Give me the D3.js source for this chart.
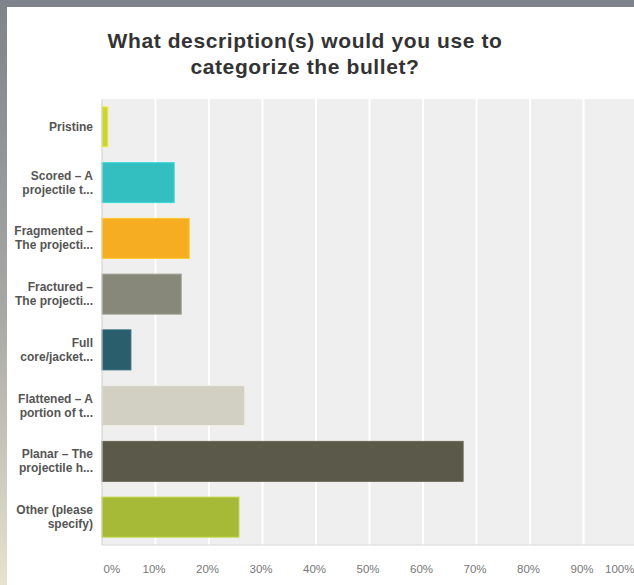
<!DOCTYPE html>
<html>
<head>
<meta charset="utf-8">
<script src="https://cdn.jsdelivr.net/npm/d3@7"></script>
<style>
  html, body { margin: 0; padding: 0; background: #fff; }
  svg { display: block; font-family: "Liberation Sans", Arial, sans-serif; }
</style>
</head>
<body>
<div class="chart"></div>
<script>
// answer choices, each split into the two lines shown on the axis
const categories = [
  ['Pristine'],
  ['Scored – A', 'projectile t...'],
  ['Fragmented –', 'The projecti...'],
  ['Fractured –', 'The projecti...'],
  ['Full', 'core/jacket...'],
  ['Flattened – A', 'portion of t...'],
  ['Planar – The', 'projectile h...'],
  ['Other (please', 'specify)']
];
const values = [1.1, 13.5, 16.3, 14.8, 5.4, 26.7, 67.5, 25.6];
const colors = ['#cbd335', '#33bec0', '#f6ad22', '#87887a', '#2b5e6c', '#d1d0c3', '#5a594a', '#a7ba37'];
const ticks = [0, 10, 20, 30, 40, 50, 60, 70, 80, 90, 100];
const title = ['What description(s) would you use to', 'categorize the bullet?'];

const config = {
  width: 634,
  height: 585,
  left: 102,
  top: 99,
  plotWidth: 535,
  plotHeight: 446
};

const data = categories.map((c, i) => ({ id: i, lines: c, value: values[i], color: colors[i] }));

const svg = d3.select('.chart')
  .append('svg')
  .attr('width', config.width)
  .attr('height', config.height);

// grey frame from the screenshot: top band and a left band fading to beige
const defs = svg.append('defs');
const grad = defs.append('linearGradient')
  .attr('id', 'edge')
  .attr('x1', 0).attr('y1', 0).attr('x2', 0).attr('y2', 1);
grad.append('stop').attr('offset', '0%').attr('stop-color', '#7f838b');
grad.append('stop').attr('offset', '55%').attr('stop-color', '#a9aaa6');
grad.append('stop').attr('offset', '100%').attr('stop-color', '#e7e3cf');

svg.append('rect').attr('width', config.width).attr('height', config.height).attr('fill', '#fff');
svg.append('rect').attr('width', 7).attr('height', config.height).attr('fill', 'url(#edge)');
svg.append('rect').attr('width', config.width).attr('height', 7).attr('fill', '#7f838b');

svg.append('g')
  .selectAll('text')
  .data(title)
  .enter()
  .append('text')
  .attr('x', 305)
  .attr('y', (d, i) => 48 + i * 26)
  .attr('text-anchor', 'middle')
  .attr('font-size', 21)
  .attr('letter-spacing', 0.6)
  .attr('font-weight', 'bold')
  .attr('fill', '#333')
  .text(d => d);

const x = d3.scaleLinear()
  .domain([0, 100])
  .range([config.left, config.left + config.plotWidth]);

const y = d3.scaleBand()
  .domain(data.map(d => d.id))
  .range([config.top, config.top + config.plotHeight])
  .paddingInner(0.283)
  .paddingOuter(0.1415);

svg.append('rect')
  .attr('x', config.left)
  .attr('y', config.top)
  .attr('width', config.plotWidth)
  .attr('height', config.plotHeight)
  .attr('fill', '#efefef');

svg.append('g')
  .selectAll('line')
  .data(ticks.slice(1))
  .enter()
  .append('line')
  .attr('x1', d => x(d))
  .attr('x2', d => x(d))
  .attr('y1', config.top)
  .attr('y2', config.top + config.plotHeight)
  .attr('stroke', '#fff')
  .attr('stroke-width', 2);

svg.append('g')
  .selectAll('rect')
  .data(data)
  .enter()
  .append('rect')
  .attr('x', x(0))
  .attr('y', d => y(d.id))
  .attr('width', d => x(d.value) - x(0))
  .attr('height', y.bandwidth())
  .attr('fill', d => d.color)
  .attr('stroke', d => d3.color(d.color).brighter(0.4))
  .attr('stroke-width', 1);

// left and bottom axis lines
svg.append('line')
  .attr('x1', config.left).attr('x2', config.left)
  .attr('y1', config.top).attr('y2', config.top + config.plotHeight)
  .attr('stroke', '#cfcfcf');
svg.append('line')
  .attr('x1', config.left).attr('x2', config.left + config.plotWidth)
  .attr('y1', config.top + config.plotHeight).attr('y2', config.top + config.plotHeight)
  .attr('stroke', '#d8d8d8');

const xAxis = svg.append('g')
  .attr('transform', `translate(0,${config.top + config.plotHeight})`)
  .call(d3.axisBottom(x).tickValues(ticks).tickFormat(d => d + '%').tickSize(0).tickPadding(20));
xAxis.select('.domain').remove();
xAxis.selectAll('text')
  .attr('font-family', '"Liberation Sans", Arial, sans-serif')
  .attr('font-size', 11.5)
  .attr('fill', '#777')
  .attr('text-anchor', d => d === 0 ? 'start' : (d === 100 ? 'end' : 'middle'))
  .attr('dx', d => d === 0 ? 1 : (d === 100 ? -3 : -2));

const labels = svg.append('g')
  .selectAll('text')
  .data(data)
  .enter()
  .append('text')
  .attr('text-anchor', 'end')
  .attr('font-size', 12)
  .attr('font-weight', 'bold')
  .attr('fill', '#555')
  .attr('y', d => y(d.id) + y.bandwidth() / 2 + 4 - (d.lines.length - 1) * 7);

labels.selectAll('tspan')
  .data(d => d.lines)
  .enter()
  .append('tspan')
  .attr('x', 93)
  .attr('dy', (d, i) => i === 0 ? 0 : 14)
  .text(d => d);
</script>
</body>
</html>
